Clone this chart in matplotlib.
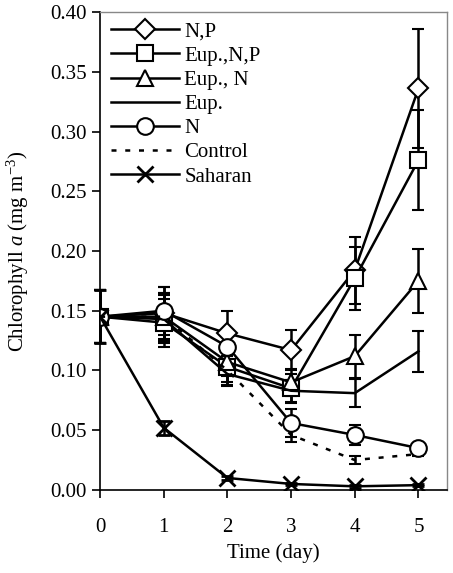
import matplotlib
matplotlib.use("Agg")
import matplotlib.pyplot as plt
from matplotlib.lines import Line2D

days = [0, 1, 2, 3, 4, 5]
series_names = ["N,P", "Eup.,N,P", "Eup., N", "Eup.", "N", "Control", "Saharan"]

np_vals = [0.145, 0.148, 0.131, 0.117, 0.184, 0.336]
np_err = [0.022, 0.022, 0.019, 0.017, 0.028, 0.050]
eupnp_vals = [0.145, 0.140, 0.103, 0.085, 0.177, 0.276]
eupnp_err = [0.022, 0.020, 0.013, 0.012, 0.026, 0.042]
eupn_vals = [0.145, 0.145, 0.107, 0.090, 0.112, 0.175]
eupn_err = [0.022, 0.020, 0.012, 0.011, 0.018, 0.027]
eup_vals = [0.145, 0.143, 0.097, 0.083, 0.081, 0.116]
eup_err = [0.022, 0.020, 0.010, 0.009, 0.012, 0.017]
n_vals = [0.145, 0.150, 0.120, 0.056, 0.046, 0.035]
n_err = [0.022, 0.020, 0.015, 0.012, 0.008, 0.004]
control_vals = [0.145, 0.145, 0.100, 0.046, 0.025, 0.030]
control_err = [0.022, 0.020, 0.012, 0.006, 0.003, 0.002]
saharan_vals = [0.145, 0.052, 0.010, 0.005, 0.003, 0.004]
saharan_err = [0.022, 0.006, 0.002, 0.001, 0.001, 0.001]

x_ticks = [0, 1, 2, 3, 4, 5]
y_ticks = [0.00, 0.05, 0.10, 0.15, 0.20, 0.25, 0.30, 0.35, 0.40]

plt.rcParams['font.family'] = ['Liberation Serif', 'DejaVu Serif']
plt.rcParams['mathtext.fontset'] = 'custom'
plt.rcParams['mathtext.rm'] = 'Liberation Serif'
plt.rcParams['mathtext.it'] = 'Liberation Serif:italic'

fig = plt.figure(figsize=(4.53, 5.73), dpi=100)
ax = fig.add_axes([0.221, 0.145, 0.766, 0.834])

styles = [
    (np_vals, np_err, dict(marker='D', ms=10, ls='-')),
    (eupnp_vals, eupnp_err, dict(marker='s', ms=11, ls='-')),
    (eupn_vals, eupn_err, dict(marker='^', ms=12, ls='-')),
    (eup_vals, eup_err, dict(marker='None', ls='-')),
    (n_vals, n_err, dict(marker='o', ms=12, ls='-')),
    (control_vals, control_err, dict(marker='None', ls=(0, (2, 3.5)))),
    (saharan_vals, saharan_err, dict(marker='x', ms=12, ls='-')),
]

handles = []
for name, (vals, err, st) in zip(series_names, styles):
    mew = 2.0 if st['marker'] == 'x' else 1.5
    cont = ax.errorbar(days, vals, yerr=err, color='black', lw=1.8, capsize=4.3,
                       elinewidth=1.8, capthick=1.8, mfc='white', mec='black',
                       mew=mew, **st)
    for art in cont.lines[1]:
        art.set_clip_on(False)
    for art in cont.lines[2]:
        art.set_clip_on(False)
    handles.append(Line2D([], [], color='black', lw=1.8, mfc='white', mec='black',
                          mew=mew, label=name, **st))

ax.set_xlim(0, 5.45)
ax.set_ylim(0, 0.40)
ax.set_xticks(x_ticks)
ax.set_yticks(y_ticks)
ax.set_yticklabels([f"{v:.2f}" for v in y_ticks])
ax.tick_params(axis='both', direction='out', labelsize=15, length=6, width=1.2, colors='black')
ax.tick_params(axis='x', pad=14)
for s in ['top', 'right']:
    ax.spines[s].set_color('#888888')
    ax.spines[s].set_linewidth(1.0)
for s in ['left', 'bottom']:
    ax.spines[s].set_linewidth(1.2)

ax.set_xlabel("Time (day)", fontsize=15, labelpad=5)
ax.set_ylabel(r"Chlorophyll $a$ (mg m$^{-3}$)", fontsize=15, labelpad=14)

leg = ax.legend(handles=handles, loc='upper left', frameon=False, fontsize=15,
                handlelength=3.3, handletextpad=0.25, labelspacing=0.22,
                borderaxespad=0.0, borderpad=0.25, bbox_to_anchor=(0.015, 0.99))

fig.savefig("out.png", dpi=100)
